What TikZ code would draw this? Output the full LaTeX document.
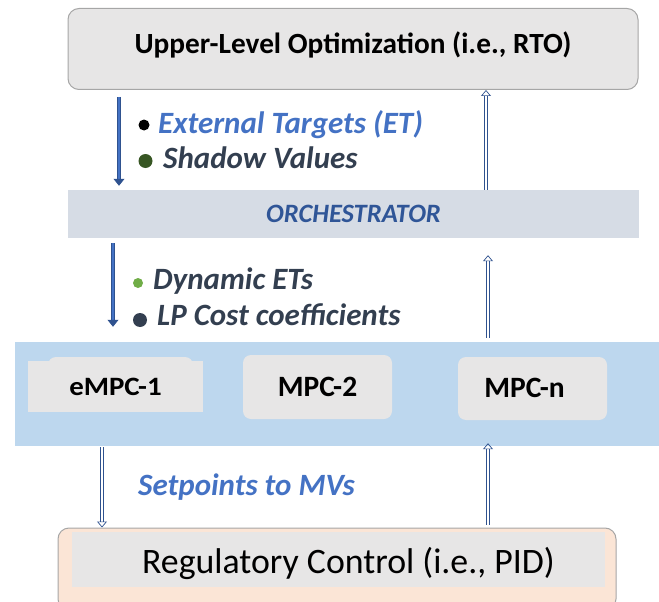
\documentclass[tikz,border=0pt]{standalone}
\usepackage{graphicx}
\usepackage{fontspec}
\setmainfont{Carlito}
\usetikzlibrary{positioning,arrows.meta,calc}
\definecolor{boxgray}{HTML}{E7E6E6}
\definecolor{edgegray}{HTML}{A6A6A6}
\definecolor{orchfill}{HTML}{D6DCE5}
\definecolor{mpcband}{HTML}{BDD7EE}
\definecolor{pidfill}{HTML}{FBE5D6}
\definecolor{etblue}{HTML}{4472C4}
\definecolor{orchblue}{HTML}{2F5597}
\definecolor{slate}{HTML}{333F50}
\definecolor{darkgreen}{HTML}{375623}
\definecolor{lightgreen}{HTML}{70AD47}
\definecolor{arrowedge}{HTML}{2F528F}
\tikzset{
  level/.style={draw=edgegray, fill=boxgray, rounded corners=11pt, line width=1pt},
  band/.style={inner sep=0pt},
  mpc/.style={fill=boxgray, rounded corners=8pt, inner sep=0pt, text height=18.5pt, text depth=0pt,
    font=\bfseries\fontsize{29.5}{34}\selectfont},
  info/.style={anchor=base west, inner sep=0pt, font=\bfseries\itshape\fontsize{31}{36}\selectfont},
  hollow/.style={draw=arrowedge, double=white, double distance=2.4pt, line width=0.7pt,
    -{Triangle[open, length=6pt, width=10pt]}},
  solid/.style={draw=arrowedge, double=etblue, double distance=2.4pt, line width=0.7pt,
    -{Triangle[length=7pt, width=11pt]}},
}
\begin{document}
\begin{tikzpicture}[x=1pt, y=-1pt]
\useasboundingbox (0,0) rectangle (659,602);

% upper level
\node[level, minimum width=570pt, minimum height=81pt, text height=18.7pt, text depth=10pt,
  font=\bfseries\fontsize{29.3}{34}\selectfont] (rto) at (353,49)
  {Upper-Level Optimization (i.e., RTO)};

% orchestrator
\node[band, fill=orchfill, minimum width=571pt, minimum height=48pt, text height=17pt, text depth=0pt,
  font=\bfseries\itshape\fontsize{26.5}{30}\selectfont, text=orchblue] (orch) at (353.5,214)
  {ORCHESTRATOR};

% MPC layer
\node[band, fill=mpcband, minimum width=644pt, minimum height=104pt] (layer) at (337,394) {};
\fill[boxgray, rounded corners=8pt] (48,357) rectangle (193,385);
\node[mpc, rounded corners=0pt, minimum width=175pt, minimum height=51pt, text height=17pt,
  font=\bfseries\fontsize{26.5}{30}\selectfont] (mpc1) at (115.5,386.5) {\scalebox{1.09}[1]{eMPC-1}};
\node[mpc, minimum width=149pt, minimum height=64pt] (mpc2) at (317.5,387) {MPC-2};
\node[mpc, minimum width=149pt, minimum height=63pt] (mpcn) at (532.5,388.5) {MPC-n\kern16pt};

% regulatory control
\node[level, fill=pidfill, minimum width=558pt, minimum height=82pt] (pid) at (337,569) {};
\node[fill=boxgray, inner sep=0pt, minimum width=533pt, minimum height=55pt,
  text height=27pt, text depth=0pt, font=\fontsize{35.8}{40}\selectfont] (pidtext) at (338.5,559.5)
  {\kern20pt Regulatory Control (i.e., PID)};

% arrow columns
\coordinate (xa) at (119,0);
\coordinate (xb) at (486,0);
\coordinate (xc) at (113,0);
\coordinate (xd) at (488,0);
\coordinate (xe) at (102,0);

\draw[solid, shorten <=7pt, shorten >=4pt] (rto.south -| xa) -- (orch.north -| xa);
\draw[hollow] (orch.north -| xb) -- (rto.south -| xb);
\draw[solid, shorten <=5pt, shorten >=15pt] (orch.south -| xc) -- (layer.north -| xc);
\draw[hollow, shorten <=4pt, shorten >=17pt] (layer.north -| xd) -- (orch.south -| xd);
\draw[hollow, shorten <=1pt] (layer.south -| xe) -- (pid.north -| xe);
\draw[hollow, shorten <=3pt, shorten >=-3pt] (pid.north -| xd) -- (layer.south -| xd);

% labels
\fill[black] (144,125) circle (5.5pt);
\node[info, text=etblue] (et) at (158,133) {External Targets (ET)};
\fill[darkgreen] (145.5,161) circle (7pt);
\node[info, text=slate] (shadow) at (163,168) {Shadow Values};
\fill[lightgreen] (138,283) circle (5pt);
\node[info, text=slate] (dyn) at (153,289.5) {Dynamic ETs};
\fill[slate] (140,320) circle (7pt);
\node[info, text=slate] (lp) at (157,325.5) {LP Cost coefficients};
\node[info, text=etblue] (sp) at (138,495) {Setpoints to MVs};
\end{tikzpicture}
\end{document}
